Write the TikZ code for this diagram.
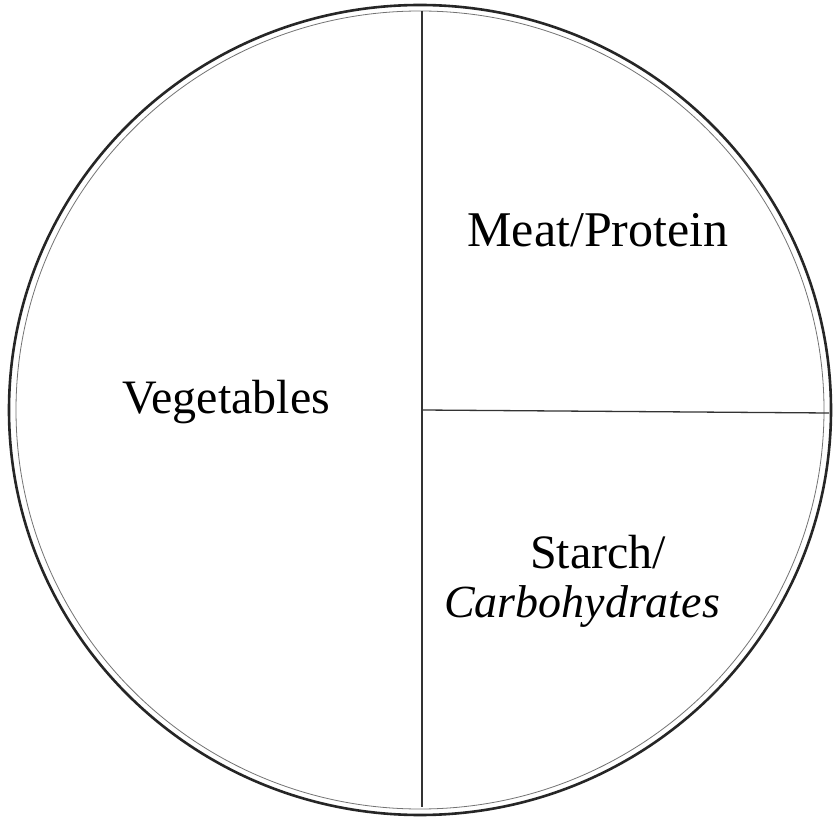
\documentclass[tikz,border=0pt]{standalone}
\usepackage{fontspec}
\setmainfont{Liberation Serif}
\begin{document}
\begin{tikzpicture}[x=1pt,y=1pt,
  rim/.style={draw=black!85, line width=2.6pt},
  innerrim/.style={draw=black!55, line width=0.8pt},
  divider/.style={draw=black!80, line width=1.3pt},
  label/.style={font=\fontsize{48}{52}\selectfont, text=black},
  hand/.style={font=\itshape\fontsize{46}{50}\selectfont, text=black}]
\useasboundingbox[fill=white] (0,0) rectangle (838,823);
\coordinate (c) at (420,413);
\draw[rim] (c) ellipse [x radius=411, y radius=405];
\draw[innerrim] (c) ellipse [x radius=404, y radius=399];
\coordinate (top) at (422,812);
\coordinate (bot) at (422,16);
\coordinate (mid) at (422,413);
\coordinate (right) at (829,410);
\draw[divider] (top) -- (bot);
\draw[divider] (mid) -- (right);
\node[label] (veg) at (226,421) {Vegetables};
\node[label, font=\fontsize{50}{54}\selectfont] (meat) at (598,593) {Meat/Protein};
\node[label] (starch) at (598,271) {Starch/};
\node[hand] (carb) at (582,216) {Carbohydrates};
\end{tikzpicture}
\end{document}
